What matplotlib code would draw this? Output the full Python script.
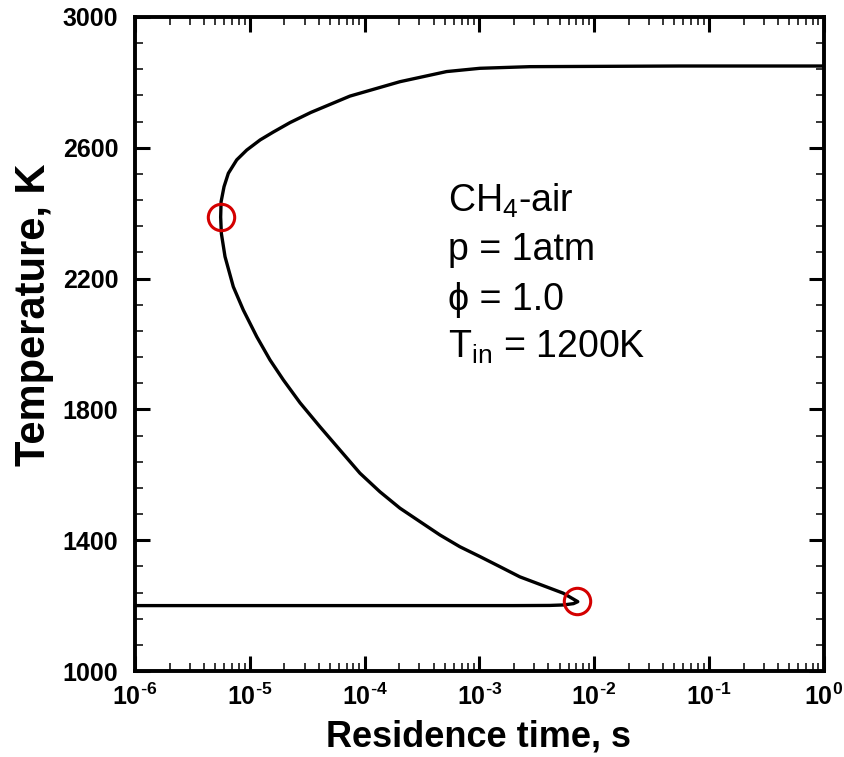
import numpy as np
import matplotlib
matplotlib.use('Agg')
import matplotlib.pyplot as plt
from matplotlib.ticker import (LogLocator, FixedLocator, AutoMinorLocator,
                               NullFormatter, FuncFormatter)

# S-curve of a perfectly stirred reactor, CH4-air
# lower (weakly reacting) branch
tau_low = [1e-6, 1e-5, 1e-4, 1e-3, 2e-3, 4.1e-3, 5.4e-3, 6.6e-3, 7.2e-3]
T_low = [1200, 1200, 1200, 1200, 1200, 1200.5, 1202, 1206, 1212]

# middle (unstable) branch, from extinction tip upward
tau_mid = [7.2e-3, 5.37e-3, 2.25e-3, 1.51e-3, 1.01e-3, 6.76e-4,
           4.53e-4, 3.03e-4, 2.03e-4, 1.36e-4, 9.1e-5, 6.09e-5, 4.08e-5,
           2.74e-5, 1.96e-5, 1.5e-5, 1.15e-5, 8.77e-6, 7.18e-6, 6.08e-6,
           5.65e-6, 5.57e-6]
T_mid = [1212, 1238, 1288, 1319, 1350, 1380, 1416, 1457, 1498, 1548,
         1605, 1676, 1747, 1820, 1890, 1951, 2022, 2104, 2175, 2267, 2338,
         2388]

# upper (burning) branch
tau_up = [5.57e-6, 5.62e-6, 5.96e-6, 6.5e-6, 7.69e-6, 9.4e-6, 1.23e-5,
          1.6e-5, 2.24e-5, 3.4e-5, 7.45e-5, 2.03e-4, 5.18e-4, 1.01e-3,
          2.75e-3, 5.57e-2, 1.0]
T_up = [2388, 2435, 2481, 2522, 2563, 2593, 2624, 2648, 2677, 2708, 2758,
        2802, 2833, 2843, 2848, 2850, 2850]

# turning points (extinction / ignition)
tau_turn = [5.57e-6, 7.1e-3]
T_turn = [2388, 1214]

y_ticks = [1000, 1400, 1800, 2200, 2600, 3000]
labels = ['CH$_4$-air', 'p = 1atm', '\u03d5 = 1.0', 'T$_{in}$ = 1200K']

plt.rcParams['font.family'] = ['Liberation Sans', 'DejaVu Sans']
plt.rcParams['mathtext.default'] = 'regular'

fig = plt.figure(figsize=(8.44, 7.57), dpi=100)
ax = fig.add_axes([0.16, 0.1136, 0.816, 0.864])

tau = tau_low + tau_mid[1:] + tau_up[1:]
T = T_low + T_mid[1:] + T_up[1:]
ax.plot(tau, T, color='black', linewidth=2.4, solid_joinstyle='round')
ax.plot(tau_turn, T_turn, linestyle='none', marker='o', markersize=19,
        markerfacecolor='none', markeredgecolor='#d40000', markeredgewidth=2.2)

ax.set_xscale('log')
ax.set_xlim(1e-6, 1)
ax.set_ylim(1000, 3000)
ax.xaxis.set_major_locator(LogLocator(base=10, numticks=10))
ax.xaxis.set_minor_locator(LogLocator(base=10, subs=np.arange(2, 10), numticks=20))
ax.xaxis.set_minor_formatter(NullFormatter())
ax.xaxis.set_major_formatter(FuncFormatter(
    lambda v, p: '10$^{\\text{-}%d}$' % round(-np.log10(v)) if v < 0.5 else '10$^{0}$'))
ax.yaxis.set_major_locator(FixedLocator(y_ticks))
ax.yaxis.set_minor_locator(AutoMinorLocator(5))

ax.tick_params(which='both', direction='in', top=True, right=True)
ax.tick_params(which='major', length=11, width=2.2, labelsize=18)
ax.tick_params(axis='x', which='major', pad=9)
ax.tick_params(axis='y', which='major', pad=12)
ax.tick_params(which='minor', length=5.5, width=1.1)
for lab in ax.get_xticklabels() + ax.get_yticklabels():
    lab.set_fontweight('bold')
for sp in ax.spines.values():
    sp.set_linewidth(2.8)

ax.set_xlabel('Residence time, s', fontsize=26, fontweight='bold')
ax.set_ylabel('Temperature, K', fontsize=30, fontweight='bold')
ax.xaxis.set_label_coords(0.498, -0.074)
ax.yaxis.set_label_coords(-0.118, 0.544)

ys = [0.702, 0.628, 0.552, 0.479]
for txt, y in zip(labels, ys):
    ax.text(0.454, y, txt, transform=ax.transAxes, fontsize=27,
            va='baseline', ha='left')

fig.savefig('out.png', dpi=100)
